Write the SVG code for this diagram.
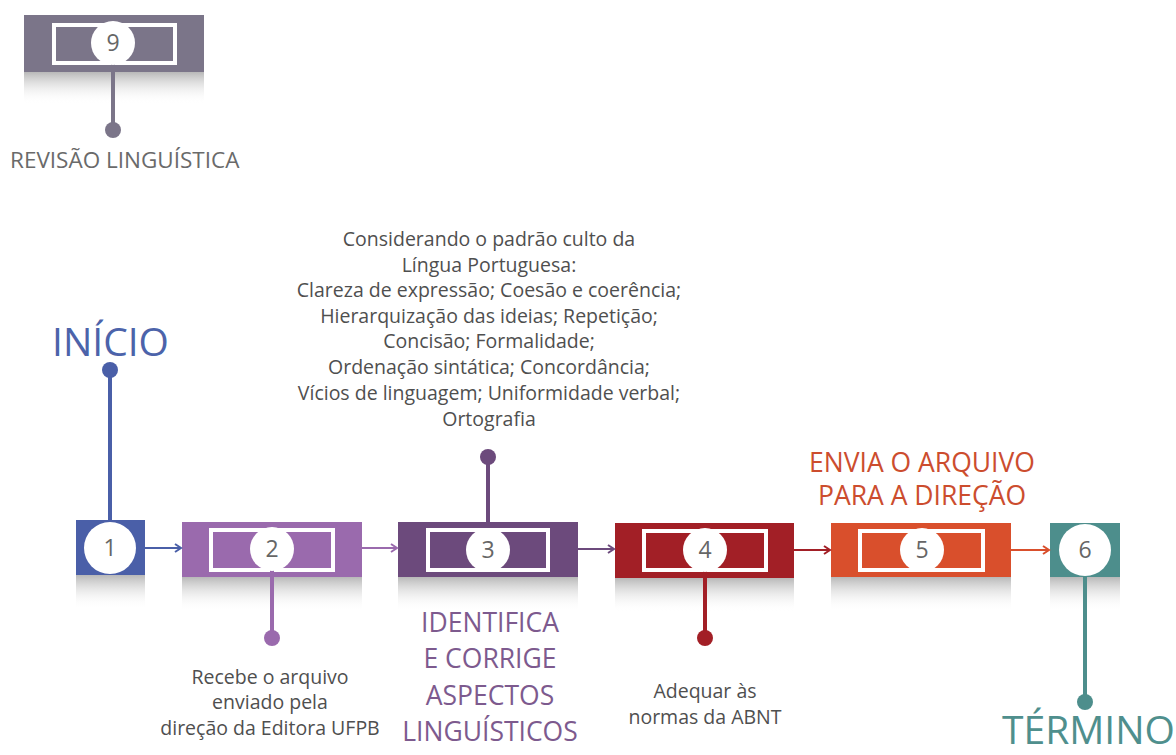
<svg xmlns="http://www.w3.org/2000/svg" width="1176" height="755" viewBox="0 0 1176 755">
<defs>
<linearGradient id="sh" x1="0" y1="0" x2="0" y2="1">
<stop offset="0" stop-color="#b8b8b8"/>
<stop offset="1" stop-color="#ffffff" stop-opacity="0"/>
</linearGradient>
<marker id="ah" markerWidth="10" markerHeight="10" refX="8" refY="5" orient="auto" markerUnits="userSpaceOnUse">
<path d="M2,1 L8,5 L2,9" fill="none" stroke="context-stroke" stroke-width="2"/>
</marker>
</defs>
<style>
text{font-family:"Open Sans","Noto Sans",sans-serif}
.num{font-size:23px;fill:#666;text-anchor:middle}
.body{font-size:19.5px;fill:#4f4f4f;text-anchor:middle}
.small{font-size:19.5px;fill:#4f4f4f;text-anchor:middle}
.big{font-size:26.5px;text-anchor:middle}
.huge{font-size:39px}
.inner{stroke:#fff;stroke-width:4}
.stem{stroke-width:4}
.arrow{stroke-width:2;fill:none}
</style>
<rect width="1176" height="755" fill="#fff"/>

<g id="node9">
<rect x="24" y="72" width="180" height="32" fill="url(#sh)"/>
<rect x="24" y="15" width="180" height="57" fill="#7b7589"/>
<rect x="54" y="25" width="121" height="38" fill="#7b7589" class="inner"/>
<line x1="113" y1="60" x2="113" y2="130" stroke="#7b7589" class="stem"/>
<circle cx="113" cy="130" r="8" fill="#7b7589"/>
<circle cx="113" cy="43" r="22" fill="#fff"/>
<text x="113" y="51" class="num">9</text>
<text x="10" y="168" font-size="22.5" fill="#6a6a6a">REVISÃO LINGUÍSTICA</text>
</g>

<g id="node1">
<rect x="76" y="575" width="69" height="34" fill="url(#sh)"/>
<line x1="110" y1="370" x2="110" y2="522" stroke="#4a5fa8" class="stem"/>
<circle cx="110" cy="370" r="8" fill="#4a5fa8"/>
<text x="52" y="356" class="huge" fill="#4c63aa">INÍCIO</text>
<rect x="76" y="520" width="69" height="55" fill="#4a5fa8"/>
<circle cx="110" cy="548" r="26" fill="#fff"/>
<text x="110" y="556" class="num">1</text>
</g>

<g id="node2">
<rect x="182" y="577" width="180" height="34" fill="url(#sh)"/>
<rect x="182" y="522" width="180" height="55" fill="#9a6aad"/>
<rect x="211" y="530" width="122" height="40" fill="#9a6aad" class="inner"/>
<line x1="272" y1="570" x2="272" y2="638" stroke="#9a6aad" class="stem"/>
<circle cx="272" cy="638" r="8" fill="#9a6aad"/>
<circle cx="272" cy="549" r="22" fill="#fff"/>
<text x="272" y="557" class="num">2</text>
<text x="270" y="684" class="small">Recebe o arquivo</text>
<text x="270" y="709" class="small">enviado pela</text>
<text x="270" y="735" class="small">direção da Editora UFPB</text>
</g>

<g id="node3">
<rect x="398" y="577" width="180" height="34" fill="url(#sh)"/>
<line x1="488" y1="457" x2="488" y2="530" stroke="#6c4a7c" class="stem"/>
<circle cx="488" cy="457" r="8" fill="#6c4a7c"/>
<rect x="398" y="522" width="180" height="55" fill="#6c4a7c"/>
<rect x="428" y="530" width="120" height="40" fill="#6c4a7c" class="inner"/>
<circle cx="488" cy="550" r="22" fill="#fff"/>
<text x="488" y="558" class="num">3</text>
<text x="489" y="246" class="body">Considerando o padrão culto da</text>
<text x="489" y="272" class="body">Língua Portuguesa:</text>
<text x="489" y="297" class="body">Clareza de expressão; Coesão e coerência;</text>
<text x="489" y="323" class="body">Hierarquização das ideias; Repetição;</text>
<text x="489" y="348" class="body">Concisão; Formalidade;</text>
<text x="489" y="374" class="body">Ordenação sintática; Concordância;</text>
<text x="489" y="400" class="body">Vícios de linguagem; Uniformidade verbal;</text>
<text x="489" y="426" class="body">Ortografia</text>
<g fill="#7d5a8e">
<text x="490" y="632" class="big">IDENTIFICA</text>
<text x="490" y="668" class="big">E CORRIGE</text>
<text x="490" y="705" class="big">ASPECTOS</text>
<text x="490" y="741" class="big">LINGUÍSTICOS</text>
</g>
</g>

<g id="node4">
<rect x="615" y="578" width="179" height="34" fill="url(#sh)"/>
<rect x="615" y="523" width="179" height="55" fill="#a21f26"/>
<rect x="644" y="531" width="122" height="39" fill="#a21f26" class="inner"/>
<line x1="705" y1="570" x2="705" y2="638" stroke="#a21f26" class="stem"/>
<circle cx="705" cy="638" r="8" fill="#a21f26"/>
<circle cx="705" cy="550" r="22" fill="#fff"/>
<text x="705" y="558" class="num">4</text>
<text x="705" y="698" class="small">Adequar às</text>
<text x="705" y="724" class="small">normas da ABNT</text>
</g>

<g id="node5">
<rect x="831" y="577" width="180" height="34" fill="url(#sh)"/>
<rect x="831" y="523" width="180" height="54" fill="#d94f2c"/>
<rect x="860" y="531" width="123" height="39" fill="#d94f2c" class="inner"/>
<circle cx="922" cy="550" r="22" fill="#fff"/>
<text x="922" y="558" class="num">5</text>
<g fill="#cc4d2e">
<text x="922" y="472" class="big">ENVIA O ARQUIVO</text>
<text x="922" y="505" class="big">PARA A DIREÇÃO</text>
</g>
</g>

<g id="node6">
<rect x="1050" y="577" width="70" height="34" fill="url(#sh)"/>
<line x1="1085" y1="570" x2="1085" y2="702" stroke="#4d8e8c" class="stem"/>
<circle cx="1085" cy="702" r="8" fill="#4d8e8c"/>
<rect x="1050" y="523" width="70" height="54" fill="#4d8e8c"/>
<circle cx="1085" cy="550" r="26" fill="#fff"/>
<text x="1085" y="558" class="num">6</text>
<text x="1002" y="744" class="huge" fill="#4f8f8d">TÉRMINO</text>
</g>

<g id="connectors">
<line x1="145" y1="548" x2="181" y2="548" stroke="#4a5fa8" class="arrow" marker-end="url(#ah)"/>
<line x1="362" y1="548" x2="397" y2="548" stroke="#9a6aad" class="arrow" marker-end="url(#ah)"/>
<line x1="578" y1="549" x2="614" y2="549" stroke="#6c4a7c" class="arrow" marker-end="url(#ah)"/>
<line x1="794" y1="550" x2="830" y2="550" stroke="#a21f26" class="arrow" marker-end="url(#ah)"/>
<line x1="1011" y1="550" x2="1049" y2="550" stroke="#d94f2c" class="arrow" marker-end="url(#ah)"/>
</g>
</svg>
